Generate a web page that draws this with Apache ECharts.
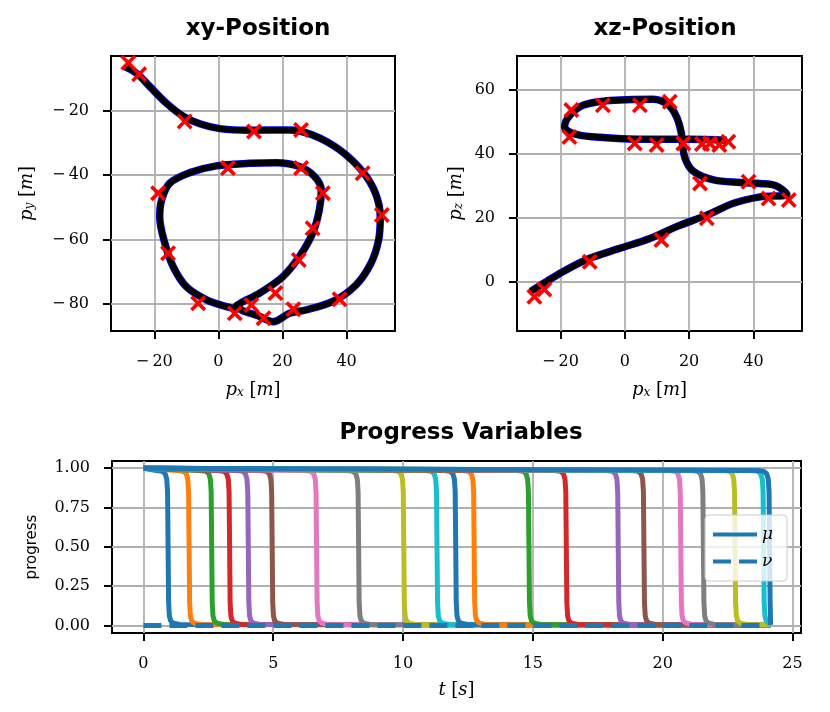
<!DOCTYPE html>
<html>
<head>
<meta charset="utf-8">
<script src="https://cdn.jsdelivr.net/npm/echarts@6/dist/echarts.min.js"></script>
<style>
    html, body { margin: 0; padding: 0; background: #fff; }
    #main { width: 830px; height: 712px; }
</style>
</head>
<body>
<div id="main"></div>
<script>
// trajectory in the xy plane (in metres)
const xyPath = [
    [-29.2, -6.2], [-25.5, -8.3], [-21.4, -12.4], [-16.2, -17.6], [-11.0, -21.6], [-5.8, -24.0],
    [0.4, -25.5], [9.7, -26.0], [22.2, -25.9], [29.4, -27.5], [37.8, -32.1], [45.0, -38.9],
    [49.0, -45.6], [50.5, -52.9], [50.0, -60.1], [47.6, -67.4], [42.9, -74.2], [35.7, -79.3],
    [27.4, -81.9], [22.2, -83.0], [17.1, -85.6], [12.9, -84.0], [6.1, -80.9], [12.9, -76.7],
    [20.1, -71.6], [25.3, -65.3], [29.4, -58.1], [31.5, -50.8], [32.1, -44.6], [30.0, -40.4],
    [25.3, -37.3], [18.1, -36.1], [9.7, -36.3], [-0.6, -37.1], [-8.9, -39.2], [-15.2, -42.5],
    [-17.7, -47.7], [-18.3, -52.9], [-16.7, -61.2], [-14.1, -68.5], [-10.0, -74.7], [-3.7, -78.8],
    [2.5, -80.9], [6.1, -81.7]
];
// waypoints (red crosses) in the xy plane
const xyWaypoints = [
    [-28.1, -5.0], [-24.7, -8.6], [-10.5, -23.3], [11.1, -26.4], [25.8, -25.9], [45.0, -39.4],
    [51.0, -52.4], [3.0, -37.8], [25.8, -37.8], [32.6, -45.6], [29.4, -56.5], [25.1, -66.4],
    [-18.8, -45.6], [-15.7, -64.3], [-6.3, -79.9], [5.1, -83.0], [10.3, -80.4], [14.1, -84.5],
    [17.8, -76.7], [23.4, -81.7], [37.8, -78.6]
];
const xyEndDot = [[6.0, -80.9]];

// trajectory in the xz plane
const xzPath = [
    [-29.2, -3.0], [-24.4, 0.0], [-18.2, 3.7], [-10.9, 7.3], [-1.6, 10.4], [7.8, 13.5],
    [16.1, 17.2], [25.5, 20.8], [33.8, 24.5], [42.1, 26.5], [50.4, 27.3], [47.0, 30.0],
    [42.0, 30.7], [35.9, 31.0], [27.6, 31.8], [21.3, 34.5], [18.6, 39.0], [17.6, 46.3],
    [16.1, 51.5], [13.5, 55.3], [8.8, 57.0], [2.6, 56.9], [-5.7, 56.5], [-13.0, 55.1],
    [-17.2, 51.8], [-18.7, 48.4], [-15.1, 46.0], [-5.7, 45.0], [6.8, 44.5], [20.3, 44.5],
    [31.7, 44.2]
];
const xzWaypoints = [
    [-28.1, -4.7], [-25.0, -2.4], [-10.9, 6.2], [11.4, 13.0], [25.5, 19.8], [38.5, 31.2],
    [44.7, 26.0], [51.0, 25.5], [23.4, 30.7], [-16.6, 53.6], [-17.2, 45.2], [-6.8, 55.1],
    [4.7, 55.1], [14.0, 56.2], [3.1, 43.2], [9.9, 42.7], [18.2, 43.2], [24.0, 43.0],
    [26.5, 43.2], [29.4, 42.7], [32.2, 43.7]
];

// progress variables: time where each mu drops from 1 to 0
const dropTimes = [0.95, 1.76, 2.63, 3.32, 4.04, 4.96, 6.67, 8.29, 10.03, 11.31, 12.03,
    12.74, 14.85, 16.29, 18.29, 19.28, 20.70, 21.57, 22.79, 23.89, 24.12];
// shape of one drop (time offset, value) as seen on the picture
const dropShape = [[-0.45, 0.985], [-0.22, 0.98], [-0.11, 0.965], [-0.05, 0.93], [-0.02, 0.85],
    [0, 0.5], [0.02, 0.15], [0.05, 0.06], [0.1, 0.03], [0.2, 0.015], [0.45, 0.006]];
const tEnd = 24.16;
const nuEnd = 24.0;

const tab10 = ['#1f77b4', '#ff7f0e', '#2ca02c', '#d62728', '#9467bd',
    '#8c564b', '#e377c2', '#7f7f7f', '#bcbd22', '#17becf'];

const posTicks = [-20, 0, 20, 40];
const xyTicksY = [-80, -60, -40, -20];
const xzTicksY = [0, 20, 40, 60];
const tTicks = [0, 5, 10, 15, 20, 25];
const progTicks = [0, 0.25, 0.5, 0.75, 1];

const crossPath = 'path://M0,1.6 L1.6,0 L5,3.4 L8.4,0 L10,1.6 L6.6,5 L10,8.4 L8.4,10 L5,6.6 L1.6,10 L0,8.4 L3.4,5 Z';

const serif = 'DejaVu Serif';
const nameRich = {
    it: { fontFamily: serif, fontStyle: 'italic', fontSize: 18, color: '#000' },
    sub: { fontFamily: serif, fontStyle: 'italic', fontSize: 12, color: '#000', verticalAlign: 'bottom', lineHeight: 13 },
    rm: { fontFamily: serif, fontSize: 18, color: '#000' }
};

function minusFmt(v) {
    return v < 0 ? '\u2212\u2009' + Math.abs(v) : String(v);
}

function valueAxis(gi, min, max, ticks, fmt, name, gap, vertical, nameStyle) {
    return {
        type: 'value',
        gridIndex: gi,
        min: min,
        max: max,
        axisLine: { show: false, onZero: false },
        axisTick: { show: true, inside: false, length: 8, customValues: ticks, lineStyle: { color: '#000', width: 2 } },
        axisLabel: { customValues: ticks, formatter: fmt, margin: vertical ? 22 : 23, fontFamily: serif, fontSize: 16, color: '#000' },
        splitLine: { show: true, lineStyle: { color: '#b0b0b0', width: 1.8 } },
        name: name,
        nameLocation: 'middle',
        nameGap: gap,
        nameRotate: vertical ? 90 : 0,
        nameTextStyle: nameStyle || { rich: nameRich }
    };
}

const chartDom = document.getElementById('main');
const myChart = echarts.init(chartDom);

const series = [];

// top panels: blue trajectory, black arrows band, red waypoints
[[0, xyPath, xyWaypoints], [1, xzPath, xzWaypoints]].forEach(function (p) {
    series.push({
        type: 'line', xAxisIndex: p[0], yAxisIndex: p[0], data: p[1], smooth: 0.35,
        symbol: 'none', lineStyle: { color: '#0000ff', width: 7.5 }, z: 2, silent: true
    });
    series.push({
        type: 'line', xAxisIndex: p[0], yAxisIndex: p[0], data: p[1], smooth: 0.35,
        symbol: 'none', lineStyle: { color: '#000', width: 6 }, z: 3, silent: true
    });
    series.push({
        type: 'scatter', xAxisIndex: p[0], yAxisIndex: p[0], data: p[2],
        symbol: crossPath, symbolSize: 16, itemStyle: { color: '#ff0000', opacity: 1 }, z: 5, silent: true
    });
});
series.push({
    type: 'scatter', xAxisIndex: 0, yAxisIndex: 0, data: xyEndDot,
    symbol: 'circle', symbolSize: 10, itemStyle: { color: '#000', opacity: 1 }, z: 4, silent: true
});

// bottom panel: mu curves, all cut at the end of the run
dropTimes.forEach(function (T, i) {
    const pts = [[0, 1]];
    dropShape.forEach(function (s) {
        if (T + s[0] < tEnd) pts.push([T + s[0], s[1]]);
    });
    pts.push([tEnd, 0.004]);
    series.push({
        name: 'μ', type: 'line', xAxisIndex: 2, yAxisIndex: 2, data: pts,
        symbol: 'none', color: tab10[i % 10],
        lineStyle: { color: tab10[i % 10], width: 5 }, z: 2 + i * 0.01, silent: true
    });
});
series.push({
    name: 'ν', type: 'line', xAxisIndex: 2, yAxisIndex: 2, data: [[0, 0], [nuEnd, 0]],
    symbol: 'none', color: tab10[0],
    lineStyle: { color: tab10[0], width: 5, type: [18, 8] }, z: 3, silent: true
});

const titleStyle = { fontFamily: 'DejaVu Sans', fontWeight: 'bold', fontSize: 23, color: '#000' };

const option = {
    animation: false,
    backgroundColor: '#fff',
    title: [
        { text: 'xy-Position', left: 253, top: 13, textAlign: 'center', textStyle: titleStyle },
        { text: 'xz-Position', left: 660, top: 13, textAlign: 'center', textStyle: titleStyle },
        { text: 'Progress Variables', left: 456, top: 417, textAlign: 'center', textStyle: titleStyle }
    ],
    grid: [
        { left: 111, top: 56, width: 284, height: 275, show: true, borderColor: '#000', borderWidth: 2, backgroundColor: '#fff', outerBoundsMode: 'none' },
        { left: 517, top: 56, width: 285, height: 275, show: true, borderColor: '#000', borderWidth: 2, backgroundColor: '#fff', outerBoundsMode: 'none' },
        { left: 112, top: 461, width: 689, height: 172, show: true, borderColor: '#000', borderWidth: 2, backgroundColor: '#fff', outerBoundsMode: 'none' }
    ],
    xAxis: [
        valueAxis(0, -33.5, 55.1, posTicks, minusFmt, '{it|p}{sub|x}{rm| [}{it|m}{rm|]}', 50, false),
        valueAxis(1, -33.5, 55.1, posTicks, minusFmt, '{it|p}{sub|x}{rm| [}{it|m}{rm|]}', 50, false),
        valueAxis(2, -1.21, 25.33, tTicks, String, '{it|t}{rm| [}{it|s}{rm|]}', 48, false)
    ],
    yAxis: [
        valueAxis(0, -88.5, -2.9, xyTicksY, minusFmt, '{it|p}{sub|y}{rm| [}{it|m}{rm|]}', 75, true),
        valueAxis(1, -15.4, 70.5, xzTicksY, minusFmt, '{it|p}{sub|z}{rm| [}{it|m}{rm|]}', 52, true),
        valueAxis(2, -0.048, 1.046, progTicks, function (v) { return v.toFixed(2); }, 'progress', 72, true,
            { fontFamily: 'DejaVu Sans', fontSize: 15, color: '#000' })
    ],
    legend: {
        data: ['μ', 'ν'],
        orient: 'vertical',
        left: 705,
        top: 515,
        itemWidth: 44,
        itemHeight: 14,
        itemGap: 10,
        padding: [11, 14, 11, 6],
        backgroundColor: 'rgba(255,255,255,0.8)',
        borderColor: '#cccccc',
        borderWidth: 1,
        borderRadius: 4,
        itemStyle: { opacity: 0 },
        lineStyle: { width: 4 },
        textStyle: { fontFamily: serif, fontStyle: 'italic', fontSize: 17, color: '#000' },
        selectedMode: false
    },
    series: series
};

myChart.setOption(option);
</script>
</body>
</html>
